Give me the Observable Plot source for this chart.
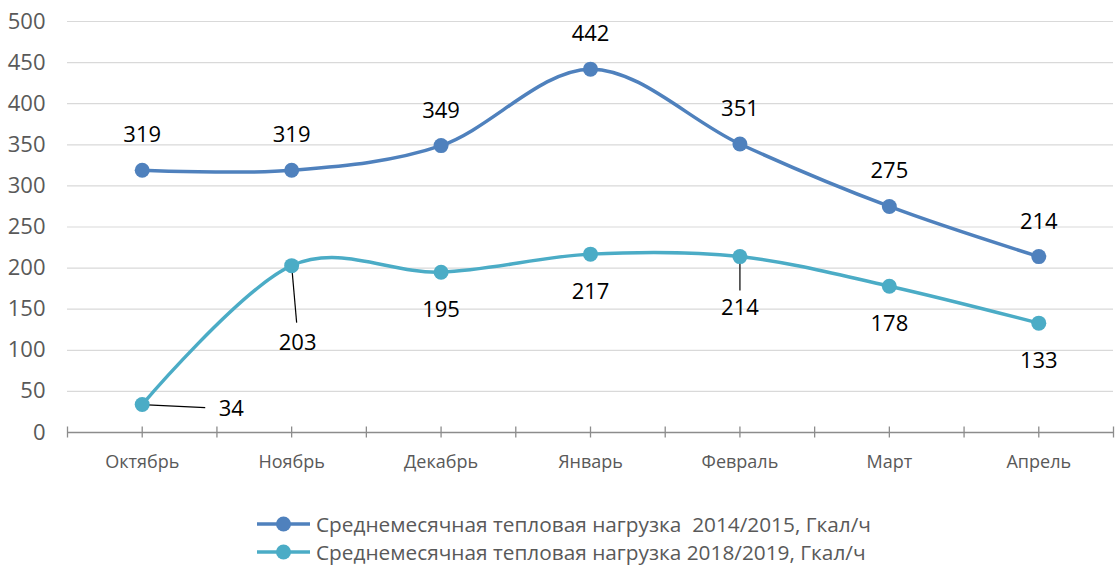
<!DOCTYPE html>
<html>
<head>
<meta charset="utf-8">
<script src="https://cdn.jsdelivr.net/npm/d3@7"></script>
<script src="https://cdn.jsdelivr.net/npm/@observablehq/plot@0.6"></script>
<style>
  body { margin: 0; background: #fff; font-family: "Open Sans", sans-serif; }
  #legend { margin-left: 257px; margin-top: 30px; color: #595959; font-size: 20.8px; }
  .row { display: flex; align-items: center; height: 28px; white-space: pre; }
  .row svg { margin-right: 6px; }
</style>
</head>
<body>
<div id="chart"></div>
<div id="legend"></div>
<script>
const months = ["Октябрь", "Ноябрь", "Декабрь", "Январь", "Февраль", "Март", "Апрель"];
const load2014 = [319, 319, 349, 442, 351, 275, 214];
const load2018 = [34, 203, 195, 217, 214, 178, 133];
const yTicks = [0, 50, 100, 150, 200, 250, 300, 350, 400, 450, 500];
const seriesNames = [
  "Среднемесячная тепловая нагрузка  2014/2015, Гкал/ч",
  "Среднемесячная тепловая нагрузка 2018/2019, Гкал/ч"
];
const colors = ["#4f81bd", "#4bacc6"];

const rows1 = months.map((m, i) => ({i, m, v: load2014[i]}));
const rows2 = months.map((m, i) => ({i, m, v: load2018[i]}));

const W = 1116, H = 480, mL = 67, mR = 3, mT = 21, mB = 48;
const stepX = (W - mL - mR) / months.length;
const pxY = (H - mT - mB) / 500;
// leader line offsets (pixels) converted to data units
const leader = (r, dx, dy) => ({x1: r.i, y1: r.v, x2: r.i + dx / stepX, y2: r.v - dy / pxY});
const leaders = [leader(rows2[0], 63, 3), leader(rows2[1], 5, 57), leader(rows2[4], 0, 34)];

const halfTicks = d3.range(-0.5, 6.51, 0.5);

const chart = Plot.plot({
  width: W, height: H,
  marginLeft: mL, marginRight: mR, marginTop: mT, marginBottom: mB,
  style: {fontFamily: "Open Sans, sans-serif", background: "#fff"},
  x: {type: "linear", domain: [-0.5, 6.5], label: null},
  y: {domain: [0, 500], label: null},
  marks: [
    Plot.gridY(yTicks, {stroke: "#d9d9d9", strokeOpacity: 1, strokeWidth: 1.2}),
    Plot.axisY(yTicks, {tickSize: 0, tickPadding: 22, fontSize: 22, fill: "#595959", label: null}),
    Plot.ruleY([0], {stroke: "#8c8c8c", strokeWidth: 1.3}),
    Plot.axisX(halfTicks, {tickSize: 11, dy: -5.5, tickFormat: () => "", stroke: "#8c8c8c", strokeWidth: 1.3, label: null}),
    Plot.axisX(d3.range(months.length), {tickSize: 0, tickPadding: 23, tickFormat: i => months[i], fontSize: 18, fill: "#595959", label: null}),
    Plot.link(leaders, {x1: "x1", y1: "y1", x2: "x2", y2: "y2", stroke: "black", strokeWidth: 1.2}),
    Plot.line(rows1, {x: "i", y: "v", curve: "cardinal", stroke: colors[0], strokeWidth: 3.5}),
    Plot.line(rows2, {x: "i", y: "v", curve: "cardinal", stroke: colors[1], strokeWidth: 3.5}),
    Plot.dot(rows1, {x: "i", y: "v", r: 7.5, fill: colors[0], stroke: "none"}),
    Plot.dot(rows2, {x: "i", y: "v", r: 7.5, fill: colors[1], stroke: "none"}),
    Plot.text(rows1, {x: "i", y: "v", text: "v", dy: -35, fontSize: 22, fill: "black"}),
    Plot.text(rows2, {filter: d => d.i >= 2 && d.i !== 4, x: "i", y: "v", text: "v", dy: 38, fontSize: 22, fill: "black"}),
    Plot.text(rows2, {filter: d => d.i === 4, x: "i", y: "v", text: "v", dy: 51, fontSize: 22, fill: "black"}),
    Plot.text(rows2, {filter: d => d.i === 1, x: "i", y: "v", text: "v", dx: 6, dy: 77, fontSize: 22, fill: "black"}),
    Plot.text(rows2, {filter: d => d.i === 0, x: "i", y: "v", text: "v", dx: 89, dy: 4, fontSize: 22, fill: "black"})
  ]
});
document.getElementById("chart").append(chart);

const legend = document.getElementById("legend");
seriesNames.forEach((name, k) => {
  const row = document.createElement("div");
  row.className = "row";
  row.innerHTML = `<svg width="53" height="18"><line x1="0" y1="9" x2="53" y2="9" stroke="${colors[k]}" stroke-width="3.5"/><circle cx="26.5" cy="9" r="7.5" fill="${colors[k]}"/></svg><span>${name}</span>`;
  legend.append(row);
});
</script>
</body>
</html>
